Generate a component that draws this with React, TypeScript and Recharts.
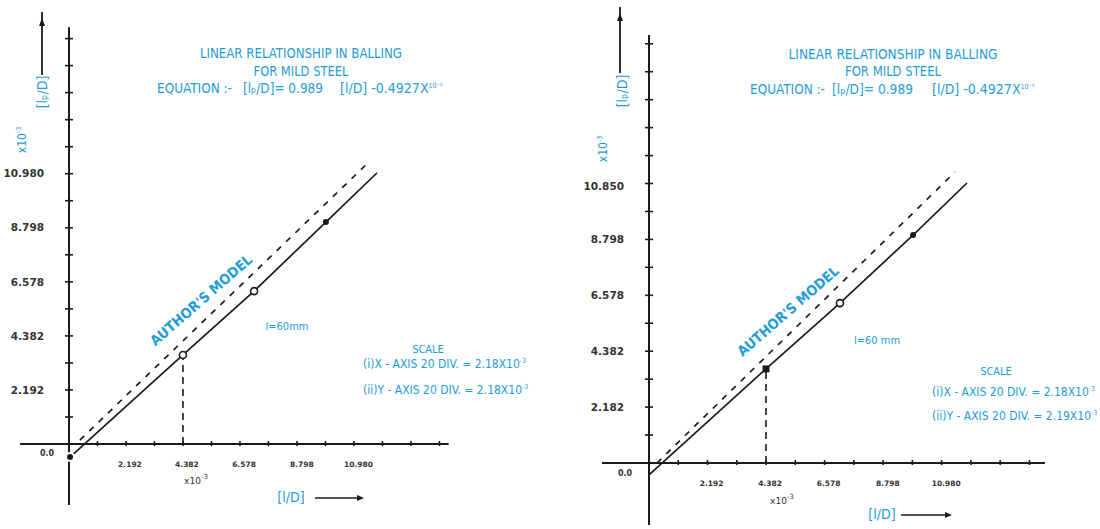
import React from "react";
import { LineChart, Line, XAxis, YAxis, ReferenceLine, ReferenceDot } from "recharts";

const BLUE = "#1e9dd8";
const INK = "#1b1b1b";
const NARROW = "'Liberation Sans Narrow', 'DejaVu Sans Condensed', 'Arial Narrow', sans-serif";
const TICK_FONT = "'DejaVu Sans', sans-serif";

// first scan (left)
const leftSolidX = [0.04, 4.382, 7.12, 9.88, 11.85];
const leftSolidY = [-0.53, 3.61, 6.2, 9.0, 11.0];
const leftDashedX = [0.42, 11.5];
const leftDashedY = [0.16, 11.4];
const leftYTickLabels = ["2.192", "4.382", "6.578", "8.798", "10.980"];
const leftXTickLabels = ["2.192", "4.382", "6.578", "8.798", "10.980"];
const leftSlope = "0.989";
const leftLength = "l=60mm";
const leftScaleX = "2.18X10";
const leftScaleY = "2.18X10";

// second scan (right)
const rightSolidX = [0.0, 4.382, 7.15, 9.89, 11.91];
const rightSolidY = [-0.47, 3.69, 6.27, 8.94, 10.98];
const rightDashedX = [0.3, 11.46];
const rightDashedY = [0.0, 11.41];
const rightYTickLabels = ["2.182", "4.382", "6.578", "8.798", "10.850"];
const rightXTickLabels = ["2.192", "4.382", "6.578", "8.798", "10.980"];
const rightSlope = "0.989";
const rightLength = "l=60 mm";
const rightScaleX = "2.18X10";
const rightScaleY = "2.19X10";

// one axis division (half a labelled step)
const DIV = 1.096;
const W = 550;
const H = 529;

// marker look per point of the solid line
const leftMarks = ["", "ring", "ring", "dot", ""];
const rightMarks = ["", "square", "ring", "dot", ""];

const leftLayout = {
  left: 0, ox: 69, oy: 444, sx: 26, sy: 24.66,
  yTop: 16.9, yBot: -2.47, xLeft: -1.88, xRight: 14.6,
  titleCx: 301, t1y: 58, t1w: 202, t2y: 76, t2w: 95,
  eqY: 93, eqX: [157, 243, 340], eqW: [75, 80, 100],
  arrowX: 42, arrowTop: 12, arrowBot: 75, yLab: [42, 92], yExp: [22, 140],
  model: [201, 300, 130, -41], len60: [287, 330],
  scaleCx: 428, scaleY: 353, scaleX: 363, sl1: 368, sl2: 394,
  zero: [47, 456], xExp: [196, 484], xLab: [291, 502], xArrow: [315, 362, 498],
};

const rightLayout = {
  left: 550, ox: 99, oy: 463, sx: 26.7, sy: 25.5,
  yTop: 16.78, yBot: -2.43, xLeft: -1.76, xRight: 14.83,
  titleCx: 343, t1y: 59, t1w: 209, t2y: 76, t2w: 96,
  eqY: 94, eqX: [200, 282, 382], eqW: [75, 81, 104],
  arrowX: 70, arrowTop: 7, arrowBot: 73, yLab: [72, 91], yExp: [53, 149],
  model: [238, 311, 129, -41], len60: [327, 344],
  scaleCx: 446, scaleY: 375, scaleX: 382, sl1: 396, sl2: 420,
  zero: [75, 476], xExp: [232, 504], xLab: [332, 519], xArrow: [351, 400, 515],
};

function Chart({ L, sX, sY, dX, dY, yLabels, xLabels, mk }: any) {
  const xDomain = [-L.ox / L.sx, (W - L.ox) / L.sx];
  const yDomain = [-(H - L.oy) / L.sy, L.oy / L.sy];
  const solid = sX.map((x: number, i: number) => ({ x, y: sY[i] }));
  const dashed = dX.map((x: number, i: number) => ({ x, y: dY[i] }));
  const yTicks = Array.from({ length: Math.floor(L.yTop / DIV) }, (_, i) => (i + 1) * DIV);
  const xTicks = Array.from({ length: Math.floor(L.xRight / DIV) }, (_, i) => (i + 1) * DIV);

  const dot = (p: any) => {
    const { cx, cy, index } = p;
    const kind = mk[index];
    const k = `d${index}`;
    if (kind === "ring") return <circle key={k} cx={cx} cy={cy} r={3.5} fill="#fff" stroke={INK} strokeWidth={1.6} />;
    if (kind === "dot") return <circle key={k} cx={cx} cy={cy} r={3} fill={INK} />;
    if (kind === "square") return <rect key={k} x={cx - 3.5} y={cy - 3.5} width={7} height={7} fill={INK} />;
    return <g key={k} />;
  };

  return (
    <div style={{ position: "absolute", left: L.left, top: 0 }}>
      <LineChart width={W} height={H} margin={{ top: 0, right: 0, bottom: 0, left: 0 }}>
        <XAxis type="number" dataKey="x" domain={xDomain} hide allowDataOverflow />
        <YAxis type="number" dataKey="y" domain={yDomain} hide allowDataOverflow />
        <ReferenceLine segment={[{ x: 0, y: L.yBot }, { x: 0, y: L.yTop }]} stroke={INK} strokeWidth={2} />
        <ReferenceLine segment={[{ x: L.xLeft, y: 0 }, { x: L.xRight, y: 0 }]} stroke={INK} strokeWidth={2} />
        {yTicks.map((t) => (
          <ReferenceDot key={`yt${t}`} x={0} y={t} r={1}
            shape={(p: any) => <line x1={p.cx - 4} x2={p.cx + 4} y1={p.cy} y2={p.cy} stroke={INK} strokeWidth={1.6} />} />
        ))}
        {xTicks.map((t) => (
          <ReferenceDot key={`xt${t}`} x={t} y={0} r={1}
            shape={(p: any) => <line x1={p.cx} x2={p.cx} y1={p.cy - 3} y2={p.cy + 2} stroke={INK} strokeWidth={1.6} />} />
        ))}
        {yLabels.map((s: string) => (
          <ReferenceDot key={`yl${s}`} x={0} y={Number(s)} r={1}
            shape={(p: any) => (
              <text x={p.cx - 25} y={p.cy + 4} textAnchor="end" fontFamily={TICK_FONT} fontWeight={700}
                fontSize={10.5} fill="#333">{s}</text>
            )} />
        ))}
        {xLabels.map((s: string) => (
          <ReferenceDot key={`xl${s}`} x={Number(s)} y={0} r={1}
            shape={(p: any) => (
              <text x={p.cx + 4} y={p.cy + 23} textAnchor="middle" fontFamily={TICK_FONT} fontWeight={700}
                fontSize={7.5} fill="#333">{s}</text>
            )} />
        ))}
        <ReferenceLine segment={[{ x: sX[1], y: 0 }, { x: sX[1], y: sY[1] }]} stroke={INK}
          strokeWidth={1.6} strokeDasharray="7 5" />
        <Line data={dashed} dataKey="y" type="linear" stroke={INK} strokeWidth={1.7}
          strokeDasharray="6 7" dot={false} isAnimationActive={false} />
        <Line data={solid} dataKey="y" type="linear" stroke={INK} strokeWidth={1.7}
          dot={dot} isAnimationActive={false} />
      </LineChart>
    </div>
  );
}

function Notes({ L, slope, len, scX, scY }: any) {
  const sup = (t: string) => <tspan dy={-5} fontSize={7}>{t}</tspan>;
  return (
    <g transform={`translate(${L.left},0)`} fontFamily={NARROW} fill={BLUE}>
      <text x={L.titleCx} y={L.t1y} textAnchor="middle" fontSize={14} textLength={L.t1w}
        lengthAdjust="spacingAndGlyphs">LINEAR RELATIONSHIP IN BALLING</text>
      <text x={L.titleCx} y={L.t2y} textAnchor="middle" fontSize={14} textLength={L.t2w}
        lengthAdjust="spacingAndGlyphs">FOR MILD STEEL</text>
      <text x={L.eqX[0]} y={L.eqY} fontSize={14} textLength={L.eqW[0]} lengthAdjust="spacingAndGlyphs">EQUATION :-</text>
      <text x={L.eqX[1]} y={L.eqY} fontSize={14} textLength={L.eqW[1]} lengthAdjust="spacingAndGlyphs">{`[lₚ/D]= ${slope}`}</text>
      <text x={L.eqX[2]} y={L.eqY} fontSize={14}>[l/D] -0.4927X{sup("10⁻³")}</text>

      <line x1={L.arrowX} x2={L.arrowX} y1={L.arrowTop} y2={L.arrowBot} stroke={INK} strokeWidth={1.8} />
      <path d={`M${L.arrowX},${L.arrowTop + 6} l-3,8 l6,0 z`} fill={INK} />
      <text transform={`translate(${L.yLab[0] + 5},${L.yLab[1]}) rotate(-90)`} textAnchor="middle" fontSize={14}>[lₚ/D]</text>
      <text transform={`translate(${L.yExp[0] + 4},${L.yExp[1]}) rotate(-90)`} textAnchor="middle" fontSize={12}>
        x10{sup("-3")}
      </text>

      <text transform={`translate(${L.model[0]},${L.model[1]}) rotate(${L.model[3]})`} textAnchor="middle"
        dy={5} fontSize={14} fontWeight={700} textLength={L.model[2]} lengthAdjust="spacingAndGlyphs">
        AUTHOR'S MODEL
      </text>
      <text x={L.len60[0]} y={L.len60[1]} textAnchor="middle" fontSize={11}>{len}</text>

      <text x={L.scaleCx} y={L.scaleY} textAnchor="middle" fontSize={11}>SCALE</text>
      <text x={L.scaleX} y={L.sl1} fontSize={12}>(i)X - AXIS 20 DIV. = {scX}{sup("-3")}</text>
      <text x={L.scaleX} y={L.sl2} fontSize={12}>(ii)Y - AXIS 20 DIV. = {scY}{sup("-3")}</text>

      <text x={L.xLab[0]} y={L.xLab[1]} textAnchor="middle" fontSize={14}>[l/D]</text>
      <line x1={L.xArrow[0]} x2={L.xArrow[1]} y1={L.xArrow[2]} y2={L.xArrow[2]} stroke={INK} strokeWidth={1.6} />
      <path d={`M${L.xArrow[1] + 2},${L.xArrow[2]} l-7,-3 l0,6 z`} fill={INK} />

      <g fill="#333" fontFamily={TICK_FONT} fontWeight={700}>
        <text x={L.zero[0]} y={L.zero[1]} textAnchor="middle" fontSize={8}>0.0</text>
        <text x={L.xExp[0]} y={L.xExp[1]} textAnchor="middle" fontSize={9} fontWeight={400}>
          x10{sup("-3")}
        </text>
      </g>
    </g>
  );
}

export default function App() {
  return (
    <div style={{ position: "absolute", left: 0, top: 0, width: 1100, height: 529, background: "#fff" }}>
      <Chart L={leftLayout} sX={leftSolidX} sY={leftSolidY} dX={leftDashedX} dY={leftDashedY}
        yLabels={leftYTickLabels} xLabels={leftXTickLabels} mk={leftMarks} />
      <Chart L={rightLayout} sX={rightSolidX} sY={rightSolidY} dX={rightDashedX} dY={rightDashedY}
        yLabels={rightYTickLabels} xLabels={rightXTickLabels} mk={rightMarks} />
      <svg width={1100} height={529} style={{ position: "absolute", left: 0, top: 0, pointerEvents: "none" }}>
        <Notes L={leftLayout} slope={leftSlope} len={leftLength} scX={leftScaleX} scY={leftScaleY} />
        <Notes L={rightLayout} slope={rightSlope} len={rightLength} scX={rightScaleX} scY={rightScaleY} />
      </svg>
    </div>
  );
}
